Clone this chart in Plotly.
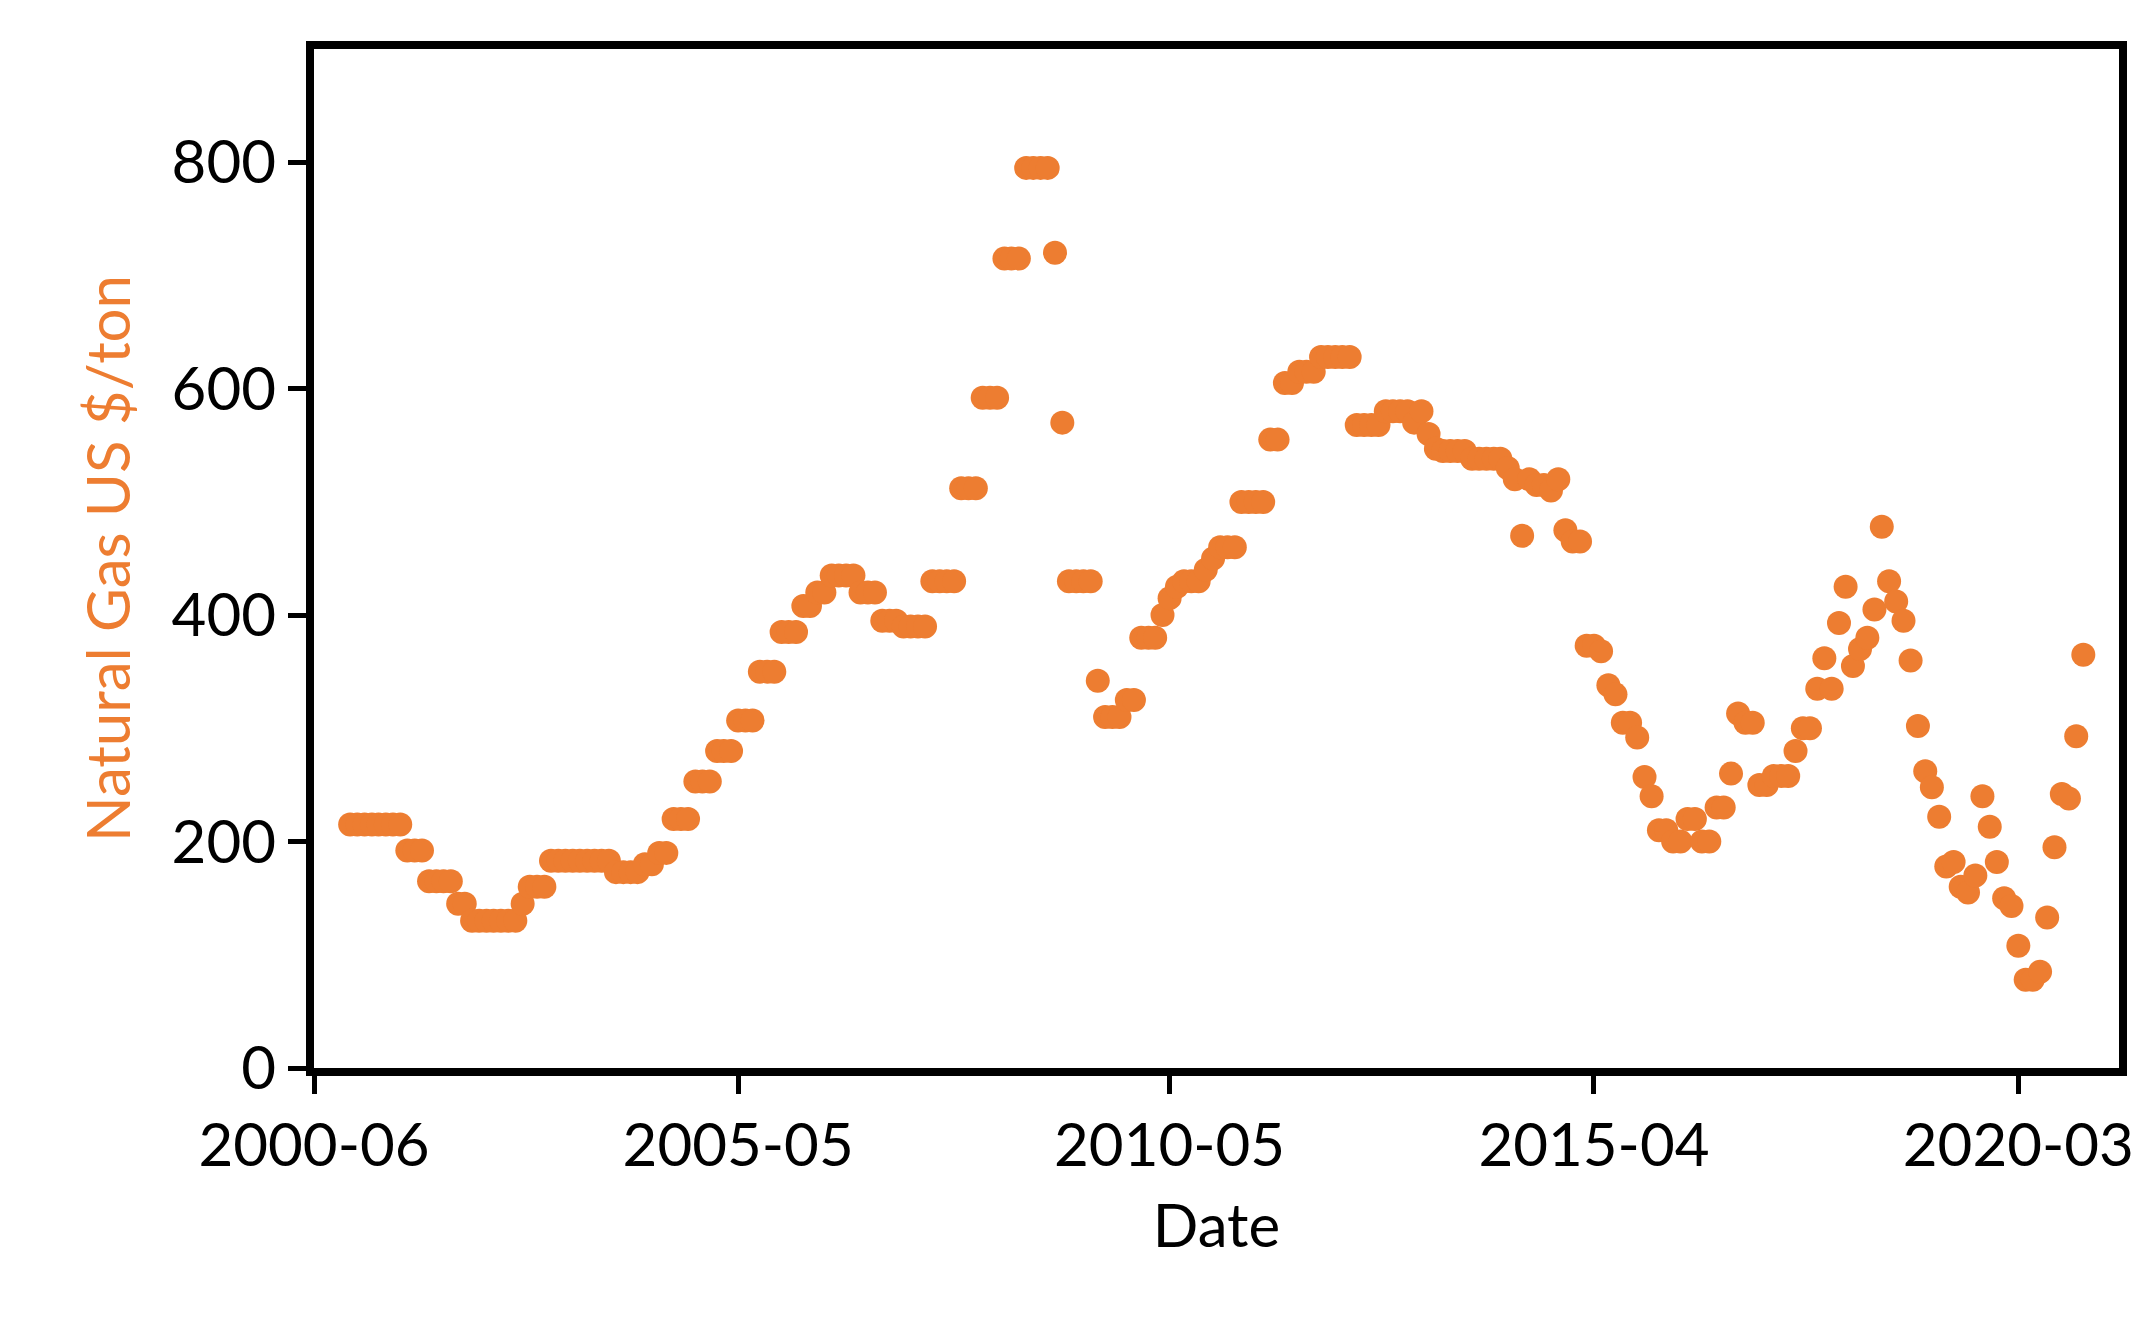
import plotly.graph_objects as go
import pandas as pd

start_month = "2000-11-01"
prices = [
    215, 215,
    215, 215, 215, 215, 215, 215, 192, 192, 192, 165, 165, 165,
    165, 145, 145, 130, 130, 130, 130, 130, 130, 130, 145, 160,
    160, 160, 183, 183, 183, 183, 183, 183, 183, 183, 183, 173,
    173, 173, 173, 180, 180, 190, 190, 220, 220, 220, 253, 253,
    253, 280, 280, 280, 307, 307, 307, 350, 350, 350, 385, 385,
    385, 408, 408, 420, 420, 435, 435, 435, 435, 420, 420, 420,
    395, 395, 395, 390, 390, 390, 390, 430, 430, 430, 430, 512,
    512, 512, 592, 592, 592, 715, 715, 715, 795, 795, 795, 795,
    720, 570, 430, 430, 430, 430, 342, 310, 310, 310, 325, 325,
    380, 380, 380, 400, 415, 425, 430, 430, 430, 440, 450, 460,
    460, 460, 500, 500, 500, 500, 555, 555, 605, 605, 615, 615,
    615, 628, 628, 628, 628, 628, 568, 568, 568, 568, 580, 580,
    580, 580, 570, 580, 560, 547, 545, 545, 545, 545, 538, 538,
    538, 538, 538, 530, 520, 470, 520, 515, 515, 510, 520, 475,
    465, 465, 373, 373, 368, 338, 330, 305, 305, 292, 257, 240,
    210, 210, 200, 200, 220, 220, 200, 200, 230, 230, 260, 313,
    305, 305, 250, 250, 258, 258, 258, 280, 300, 300, 335, 362,
    335, 393, 425, 355, 370, 380, 405, 478, 430, 412, 395, 360,
    302, 262, 248, 222, 178, 182, 160, 155, 170, 240, 213, 182,
    150, 143, 108, 78, 78, 85, 133, 195, 242, 238, 293, 365,
]
dates = pd.date_range(start_month, periods=len(prices), freq="MS")
tick_vals = ["2000-06-01", "2005-05-01", "2010-05-01", "2015-04-01", "2020-03-01"]
tick_text = ["2000-06", "2005-05", "2010-05", "2015-04", "2020-03"]
y_ticks = [0, 200, 400, 600, 800]

fig = go.Figure(go.Scatter(
    x=dates, y=prices, mode="markers",
    marker=dict(color="#ED7D31", size=24, line=dict(width=0)),
))
fig.update_layout(
    width=2151, height=1328, plot_bgcolor="white", paper_bgcolor="white",
    margin=dict(l=306, r=40, t=41, b=268),
    font=dict(family="Lato, Open Sans, sans-serif", size=60, color="black"),
    showlegend=False,
)
fig.update_xaxes(
    range=["2000-06-01", "2021-05-01"], tickvals=tick_vals, ticktext=tick_text,
    showline=True, linewidth=8, linecolor="black", mirror=True,
    ticks="outside", ticklen=18, tickwidth=5, tickcolor="black",
    showgrid=False, zeroline=False,
    title=dict(text="Date", font=dict(size=60), standoff=30),
)
fig.update_yaxes(
    range=[0, 900], tickvals=y_ticks,
    showline=True, linewidth=8, linecolor="black", mirror=True,
    ticks="outside", ticklen=18, tickwidth=5, tickcolor="black",
    showgrid=False, zeroline=False,
    title=dict(text="Natural Gas US $/ton", font=dict(size=60, color="#ED7D31"), standoff=25),
)
fig.write_html("out.html")
